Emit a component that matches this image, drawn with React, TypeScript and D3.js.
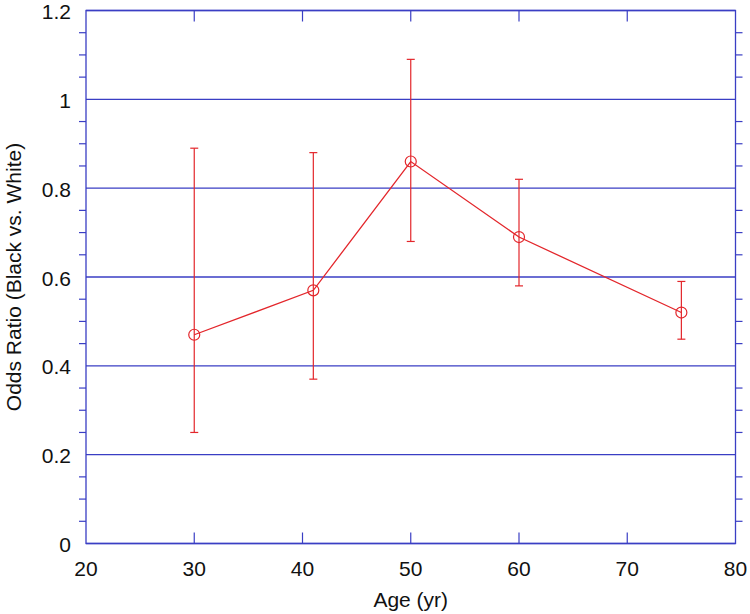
import React from "react";
import * as d3 from "d3";

const ages = [30, 41, 50, 60, 75];
const oddsRatio = [0.47, 0.57, 0.86, 0.69, 0.52];
const lowerCI = [0.25, 0.37, 0.68, 0.58, 0.46];
const upperCI = [0.89, 0.88, 1.09, 0.82, 0.59];
const xTicks = [20, 30, 40, 50, 60, 70, 80];
const yTicks = [0, 0.2, 0.4, 0.6, 0.8, 1, 1.2];
const yTickLabels = ["0", "0.2", "0.4", "0.6", "0.8", "1", "1.2"];

const BLUE = "#3a3ec4";
const RED = "#e3262b";
const FONT = "'Liberation Sans', Arial, Helvetica, sans-serif";

export default function App() {
  const W = 750, H = 614;
  const left = 86, right = 735.5, top = 10.5, bottom = 543.5;
  const x = d3.scaleLinear().domain([20, 80]).range([left, right]);
  const y = d3.scaleLinear().domain([0, 1.2]).range([bottom, top]);

  const minor = d3.range(0, 1.2001, 0.05).filter((v) => Math.abs(Math.round(v / 0.2) * 0.2 - v) > 1e-6);
  const line = d3.line<number>().x((_, i) => x(ages[i])).y((d) => y(d));

  return (
    <svg width={W} height={H} style={{ position: "absolute", left: 0, top: 0, background: "#fff" }} fontFamily={FONT}>
      <rect x={0} y={0} width={W} height={H} fill="#fff" />
      {/* grid lines */}
      {yTicks.map((t) => (
        <line key={"g" + t} x1={left} x2={right} y1={y(t)} y2={y(t)} stroke={BLUE} strokeWidth={1.3} />
      ))}
      {/* frame */}
      <rect x={left} y={top} width={right - left} height={bottom - top} fill="none" stroke={BLUE} strokeWidth={1.3} />
      {/* minor y ticks outward */}
      {minor.map((t) => (
        <g key={"m" + t}>
          <line x1={left - 7} x2={left} y1={y(t)} y2={y(t)} stroke={BLUE} strokeWidth={1.2} />
          <line x1={right} x2={right + 7} y1={y(t)} y2={y(t)} stroke={BLUE} strokeWidth={1.2} />
        </g>
      ))}
      {/* x ticks inward */}
      {xTicks.slice(1, -1).map((t) => (
        <g key={"x" + t}>
          <line x1={x(t)} x2={x(t)} y1={bottom} y2={bottom - 11} stroke={BLUE} strokeWidth={1.2} />
          <line x1={x(t)} x2={x(t)} y1={top} y2={top + 11} stroke={BLUE} strokeWidth={1.2} />
        </g>
      ))}
      {/* x tick labels */}
      {xTicks.map((t) => (
        <text key={"xl" + t} x={x(t)} y={575.5} textAnchor="middle" fontSize={21} fill="#111">
          {t}
        </text>
      ))}
      {/* y tick labels */}
      {yTicks.map((t, i) => (
        <text key={"yl" + t} x={71} y={y(t) + 8.5} textAnchor="end" fontSize={21} fill="#111">
          {yTickLabels[i]}
        </text>
      ))}
      {/* axis labels */}
      <text x={(left + right) / 2} y={606.5} textAnchor="middle" fontSize={21} fill="#111">
        Age (yr)
      </text>
      <text transform={`translate(20.5, ${(top + bottom) / 2}) rotate(-90)`} textAnchor="middle" fontSize={21} fill="#111">
        Odds Ratio (Black vs. White)
      </text>
      {/* error bars */}
      {ages.map((a, i) => (
        <g key={"e" + a} stroke={RED} strokeWidth={1.2}>
          <line x1={x(a)} x2={x(a)} y1={y(lowerCI[i])} y2={y(upperCI[i])} />
          <line x1={x(a) - 4} x2={x(a) + 4} y1={y(lowerCI[i])} y2={y(lowerCI[i])} />
          <line x1={x(a) - 4} x2={x(a) + 4} y1={y(upperCI[i])} y2={y(upperCI[i])} />
        </g>
      ))}
      {/* line */}
      <path d={line(oddsRatio) || ""} fill="none" stroke={RED} strokeWidth={1.3} />
      {/* markers */}
      {ages.map((a, i) => (
        <circle key={"c" + a} cx={x(a)} cy={y(oddsRatio[i])} r={5.5} fill="none" stroke={RED} strokeWidth={1.2} />
      ))}
    </svg>
  );
}
